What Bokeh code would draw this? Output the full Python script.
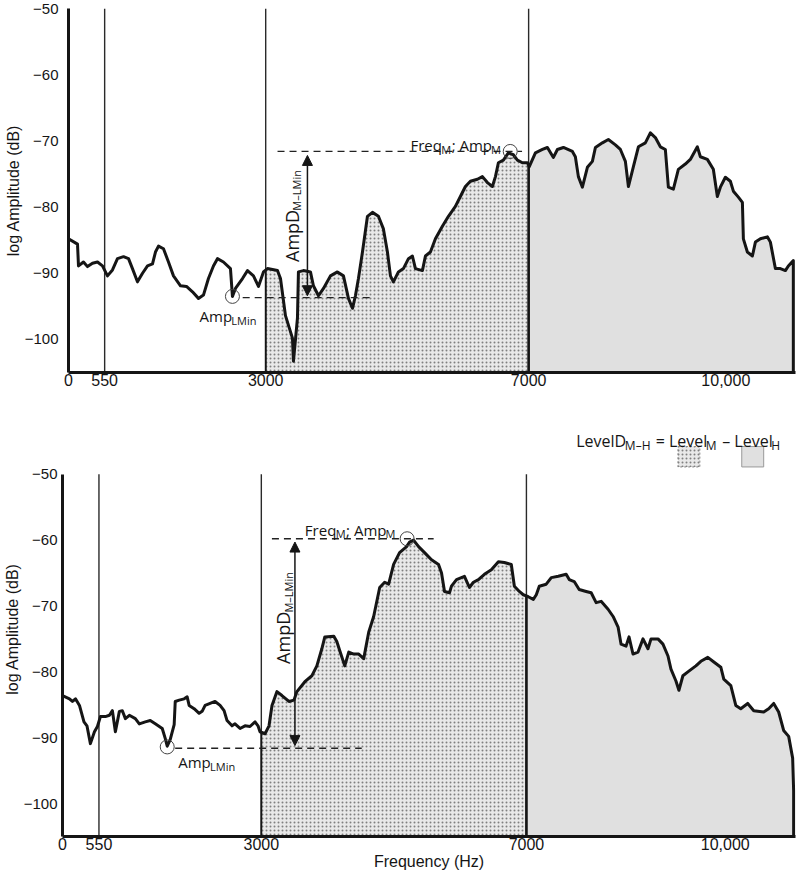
import numpy as np
from bokeh.plotting import figure
from bokeh.layouts import column
from bokeh.models import Range1d, FixedTicker, Label, Arrow, NormalHead
from bokeh.embed import file_html
from bokeh.resources import INLINE

# ---------------- data ----------------
top_freq = [0, 137, 152, 228, 289, 365, 441, 517, 593, 669, 745, 837, 913, 973, 1049, 1126,
            1202, 1278, 1323, 1369, 1445, 1521, 1597, 1704, 1795, 1886, 1977, 2053, 2129, 2205,
            2266, 2357, 2464, 2494, 2540, 2647, 2723, 2814, 2890, 2966, 3027, 3179, 3225, 3301,
            3407, 3422, 3483, 3498, 3574, 3681, 3726, 3803, 3879, 3985, 4091, 4183, 4259, 4320,
            4365, 4411, 4472, 4548, 4624, 4715, 4791, 4852, 4898, 4943, 5019, 5095, 5172, 5232,
            5278, 5384, 5430, 5506, 5582, 5688, 5780, 5886, 5962, 6038, 6114, 6221, 6297, 6373,
            6449, 6495, 6540, 6616, 6692, 6768, 6829, 6905, 6981, 7010, 7103, 7210, 7286, 7377,
            7438, 7529, 7666, 7711, 7757, 7818, 7894, 7970, 8016, 8122, 8213, 8320, 8396, 8472,
            8518, 8594, 8670, 8776, 8852, 8928, 9004, 9080, 9126, 9202, 9278, 9384, 9460, 9567,
            9613, 9719, 9810, 9871, 9917, 9993, 10069, 10115, 10191, 10252, 10267, 10328, 10404,
            10450, 10526, 10632, 10678, 10754, 10830, 10906, 10951, 11027]
top_db = [-84.8, -85.6, -88.9, -88.3, -89.0, -88.5, -88.3, -88.9, -90.4, -89.5, -87.8, -87.5,
          -87.8, -89.3, -91.3, -90.0, -88.9, -88.6, -86.8, -85.9, -86.3, -88.3, -90.4, -91.9,
          -92.0, -92.8, -93.8, -93.3, -90.8, -88.9, -87.8, -88.3, -89.3, -93.5, -92.3, -90.8,
          -89.6, -90.4, -92.0, -89.8, -89.3, -89.6, -90.8, -96.4, -99.8, -103.3, -96.8, -89.8,
          -89.6, -89.8, -91.9, -93.4, -92.3, -90.4, -89.8, -90.4, -93.8, -95.3, -93.4, -90.8,
          -86.8, -81.4, -80.8, -81.4, -83.3, -86.8, -90.4, -91.3, -89.8, -89.3, -87.8, -87.4,
          -89.3, -89.6, -87.4, -86.8, -84.8, -82.9, -81.4, -79.9, -78.4, -76.9, -76.1, -75.8,
          -75.4, -76.3, -76.9, -75.4, -73.3, -72.9, -71.8, -72.1, -72.9, -73.3, -73.3, -73.9,
          -71.8, -71.3, -71.0, -72.5, -71.3, -71.0, -71.6, -72.4, -75.4, -77.0, -74.0, -73.1,
          -71.0, -70.3, -69.8, -70.6, -71.3, -73.1, -76.9, -73.9, -70.9, -70.3, -68.8, -69.5,
          -70.9, -71.3, -77.0, -77.3, -74.3, -73.5, -72.8, -70.9, -72.4, -72.8, -74.3, -78.4,
          -77.0, -75.5, -76.1, -77.6, -78.5, -79.3, -84.8, -86.8, -87.4, -85.3, -84.8, -84.5,
          -85.3, -89.3, -89.3, -89.6, -88.9, -88.1]

bot_freq = [0, 105, 150, 196, 256, 324, 369, 421, 482, 527, 572, 647, 708, 753, 798, 858, 903,
            949, 1009, 1099, 1159, 1249, 1324, 1400, 1505, 1550, 1580, 1625, 1685, 1701, 1761,
            1836, 1881, 1911, 1986, 2062, 2107, 2152, 2227, 2302, 2378, 2438, 2483, 2558, 2603,
            2679, 2754, 2829, 2905, 2950, 2980, 3056, 3116, 3161, 3236, 3311, 3417, 3492, 3537,
            3657, 3763, 3838, 3913, 3958, 4094, 4139, 4184, 4259, 4319, 4395, 4470, 4545, 4620,
            4695, 4786, 4861, 4921, 4996, 5086, 5192, 5237, 5297, 5373, 5463, 5568, 5674, 5719,
            5764, 5839, 5869, 5945, 6065, 6140, 6200, 6276, 6366, 6471, 6577, 6667, 6772, 6818,
            6893, 6953, 7028, 7104, 7149, 7194, 7299, 7375, 7480, 7600, 7646, 7721, 7796, 7901,
            7977, 8052, 8127, 8232, 8308, 8383, 8428, 8503, 8548, 8608, 8684, 8759, 8834, 8880,
            8985, 9060, 9136, 9181, 9256, 9301, 9361, 9451, 9557, 9632, 9737, 9828, 9933, 9978,
            10084, 10159, 10234, 10339, 10430, 10580, 10655, 10731, 10806, 10881, 10957, 11017,
            11032]
bot_db = [-83.6, -84.1, -84.5, -84.1, -85.1, -87.6, -88.2, -90.9, -89.1, -88.3, -86.8, -86.8,
          -86.6, -85.9, -89.1, -86.0, -85.9, -87.1, -86.6, -87.1, -87.9, -87.6, -87.4, -87.9,
          -88.6, -90.1, -91.3, -90.3, -88.0, -84.5, -84.3, -84.1, -83.8, -85.1, -85.6, -86.3,
          -86.0, -85.1, -84.8, -84.5, -85.1, -85.9, -87.4, -88.2, -87.9, -88.6, -88.2, -88.3,
          -87.6, -88.2, -89.1, -89.4, -88.2, -85.1, -83.0, -83.6, -84.5, -84.3, -83.0, -81.5,
          -80.6, -79.1, -76.5, -74.7, -74.6, -75.4, -76.8, -79.1, -77.0, -77.3, -77.3, -78.0,
          -74.0, -71.6, -67.2, -66.4, -66.7, -63.7, -61.9, -61.0, -60.3, -60.0, -61.0, -61.9,
          -63.0, -63.7, -65.0, -67.8, -68.0, -67.0, -66.0, -65.5, -67.2, -66.4, -66.0, -65.2,
          -64.5, -63.3, -63.4, -63.7, -67.0, -67.8, -68.3, -68.6, -69.0, -68.3, -67.0, -66.7,
          -65.7, -65.5, -65.2, -66.0, -66.3, -67.5, -67.8, -68.0, -69.5, -69.3, -70.5, -71.6,
          -73.2, -75.8, -76.1, -74.7, -77.3, -77.0, -75.0, -76.5, -75.0, -75.0, -75.8, -77.6,
          -79.6, -81.4, -82.8, -80.6, -79.9, -79.1, -78.4, -77.8, -78.5, -79.3, -81.1, -82.1,
          -85.1, -85.6, -84.8, -85.9, -86.1, -85.6, -84.8, -86.1, -88.9, -89.8, -93.1, -98.1]

band_edges = [550, 3000, 7000]
mid_band = (3000, 7000)
x_ticks = [0, 550, 3000, 7000, 10000]
x_tick_labels = ["0", "550", "3000", "7000", "10,000"]
y_ticks = [-100, -90, -80, -70, -60, -50]
y_tick_labels = ["\u2212100", "\u221290", "\u221280", "\u221270", "\u221260", "\u221250"]

Y_MIN, Y_MAX, X_MAX = -105, -50, 11060

# annotation anchors (data coordinates)
top_ann = dict(circ_m=(6720, -71.6), circ_l=(2494, -93.5),
               dash_hi=(3180, 6900, -71.6), dash_lo=(2650, 4640, -93.7),
               arrow=(3635, -72.2, -93.4),
               lab_m=(5202, -70.6), lab_l=(1993, -96.5), lab_d=(3394, -88.3))
bot_ann = dict(circ_m=(5200, -59.8), circ_l=(1580, -91.4),
               dash_hi=(3160, 5600, -59.8), dash_lo=(1700, 4515, -91.6),
               arrow=(3507, -60.3, -91.2),
               lab_m=(3657, -58.4), lab_l=(1746, -93.7), lab_d=(3330, -78.8))

ANN_FONT = "Open Sans"
AX_FONT = "Liberation Sans"
INK = "#151515"

# approximate advance widths (per 1000 em)
W = {'A': 633, 'D': 737, 'F': 532, 'H': 754, 'L': 519, 'M': 907, 'e': 561, 'i': 258, 'l': 258,
     'm': 929, 'n': 613, 'p': 613, 'q': 613, 'r': 408, 'v': 500, ';': 268, ' ': 260, '=': 571,
     '\u2013': 500}


def tw(txt, fs, k):
    return k * sum(W.get(c, 560) for c in txt) * fs / 1000.0


def rich(p, x, y, parts, size, sub, rotated=False, gap=1.0, k=0.95):
    off = 0.0
    for txt, is_sub in parts:
        fs = sub if is_sub else size
        lead = len(txt) - len(txt.lstrip(" "))
        off += tw(" " * lead, fs, k) * 1.3
        body = txt.strip(" ")
        shift = -0.28 * size if is_sub else 0.0
        if rotated:
            xo, yo, ang = -shift, off, np.pi / 2
        else:
            xo, yo, ang = off, shift, 0
        p.add_layout(Label(x=x, y=y, x_offset=xo, y_offset=yo, text=body, angle=ang,
                           text_font=ANN_FONT, text_font_size=f"{fs}px", text_color=INK,
                           text_align="left", text_baseline="alphabetic"))
        off += tw(body, fs, k) + gap


def panel(freq, db, height, left, top, bottom, y_end, ann, xlabel, ylab_standoff):
    p = figure(width=800, height=height, x_range=Range1d(0, X_MAX), y_range=Range1d(Y_MIN, y_end),
               output_backend="svg", toolbar_location=None, min_border_left=left,
               min_border_right=5, min_border_top=top, min_border_bottom=bottom)
    p.frame_align = False
    p.outline_line_color = None
    p.grid.visible = False

    f = np.asarray(freq, float)
    d = np.asarray(db, float)
    d_lo = float(np.interp(mid_band[0], f, d))
    d_hi = float(np.interp(mid_band[1], f, d))
    m = (f > mid_band[0]) & (f < mid_band[1])
    mx = np.concatenate([[mid_band[0]], f[m], [mid_band[1]]])
    my = np.concatenate([[d_lo], d[m], [d_hi]])
    p.varea(x=mx, y1=np.full(len(mx), Y_MIN), y2=my, fill_color="#e9e9e9",
            hatch_pattern="dot", hatch_color="#808080", hatch_scale=4, hatch_weight=1)
    h = f > mid_band[1]
    hx = np.concatenate([[mid_band[1]], f[h]])
    hy = np.concatenate([[d_hi], d[h]])
    p.varea(x=hx, y1=np.full(len(hx), Y_MIN), y2=hy, fill_color="#e0e0e0")

    p.segment(x0=band_edges, y0=[Y_MIN] * 3, x1=band_edges, y1=[Y_MAX] * 3,
              line_color="#2a2a2a", line_width=1.4)
    p.segment(x0=list(mid_band), y0=[Y_MIN] * 2, x1=list(mid_band), y1=[d_lo, d_hi],
              line_color=INK, line_width=[1.8, 2.6])

    p.line(np.append(f, f[-1]), np.append(d, Y_MIN), line_color=INK, line_width=3,
           line_join="round")

    # annotations
    x0, x1, yv = ann["dash_hi"]
    p.line([x0, x1], [yv, yv], line_dash="7 5", line_width=1.3, line_color="#222")
    x0, x1, yv = ann["dash_lo"]
    p.line([x0, x1], [yv, yv], line_dash="7 5", line_width=1.3, line_color="#222")
    p.scatter([ann["circ_m"][0], ann["circ_l"][0]], [ann["circ_m"][1], ann["circ_l"][1]],
              marker="circle", size=14, fill_color=None, line_color="#444", line_width=1)
    ax, ay0, ay1 = ann["arrow"]
    p.add_layout(Arrow(start=NormalHead(size=10, fill_color=INK, line_color=INK),
                       end=NormalHead(size=10, fill_color=INK, line_color=INK),
                       x_start=ax, y_start=ay1, x_end=ax, y_end=ay0,
                       line_width=1.5, line_color=INK))
    rich(p, *ann["lab_m"], [("Freq", 0), ("M", 1), ("; Amp", 0), ("M", 1)], 15, 11, gap=0.8)
    rich(p, *ann["lab_l"], [("Amp", 0), ("LMin", 1)], 15, 11, gap=0.8)
    rich(p, *ann["lab_d"], [("AmpD", 0), ("M\u2013LMin", 1)], 18, 11, rotated=True, gap=0.5,
         k=0.97)

    # axes
    for ax_ in (p.xaxis, p.yaxis):
        ax_.axis_line_width = 3
        ax_.axis_line_color = INK
        ax_.major_tick_line_color = None
        ax_.minor_tick_line_color = None
        ax_.major_tick_out = 0
        ax_.major_tick_in = 0
        ax_.minor_tick_out = 0
        ax_.minor_tick_in = 0
        ax_.major_label_text_font = AX_FONT
        ax_.major_label_text_color = INK
        ax_.axis_label_text_font = AX_FONT
        ax_.axis_label_text_font_size = "16px"
        ax_.axis_label_text_font_style = "normal"
        ax_.axis_label_text_color = INK
    p.xaxis.major_label_text_font_size = "16px"
    p.yaxis.major_label_text_font_size = "15px"
    p.xaxis.ticker = FixedTicker(ticks=x_ticks)
    p.xaxis.major_label_overrides = dict(zip(x_ticks, x_tick_labels))
    p.yaxis.ticker = FixedTicker(ticks=y_ticks)
    p.yaxis.major_label_overrides = dict(zip(y_ticks, y_tick_labels))
    p.yaxis.bounds = (Y_MIN, Y_MAX)
    p.xaxis.major_label_standoff = 1
    p.yaxis.major_label_standoff = ylab_standoff
    p.yaxis.axis_label = "log Amplitude (dB)"
    p.yaxis.axis_label_standoff = 0
    if xlabel:
        p.xaxis.axis_label = "Frequency (Hz)"
        p.xaxis.axis_label_standoff = 0
    return p


p_top = panel(top_freq, top_db, 396, 68, 8, 24, Y_MAX, top_ann, False, 10)
p_bot = panel(bot_freq, bot_db, 478, 60, 25, 38, -42, bot_ann, True, 5)

# legend formula above the lower panel
rich(p_bot, 7751, -44.9, [("LevelD", 0), ("M\u2013H", 1), (" = Level", 0), ("M", 1),
                          (" \u2013 Level", 0), ("H", 1)], 16, 12, gap=1.0)
p_bot.quad(left=[9286], right=[9617], bottom=[-48.9], top=[-45.8], fill_color="#e9e9e9",
           hatch_pattern="dot", hatch_color="#808080", hatch_scale=4, hatch_weight=1,
           line_color="#888", line_dash="2 2", line_width=1)
p_bot.quad(left=[10249], right=[10580], bottom=[-48.9], top=[-45.8], fill_color="#e0e0e0",
           line_color="#999", line_width=1)

layout = column(p_top, p_bot, spacing=0)
open("out.html", "w").write(file_html(layout, INLINE))
